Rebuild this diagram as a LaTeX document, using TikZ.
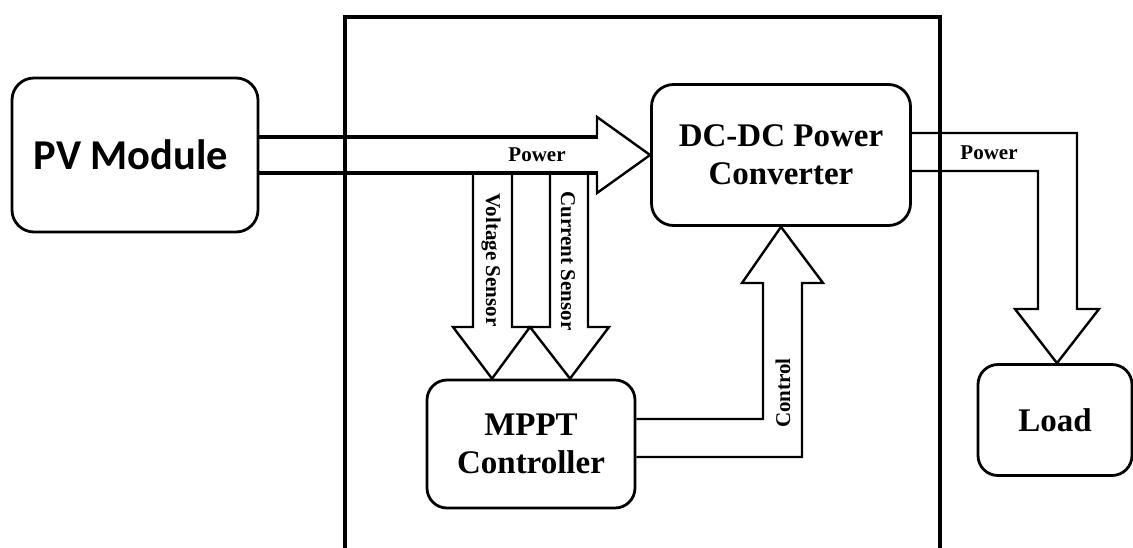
\documentclass[tikz,border=0pt]{standalone}
\usepackage{fontspec}
\setmainfont{Liberation Serif}
\newfontfamily\pvfont{Carlito}
\begin{document}
\begin{tikzpicture}[x=1pt,y=-1pt,
  box/.style={draw, line width=2.8pt, rounded corners=22pt, inner sep=0pt, align=center,
    font=\bfseries\fontsize{33}{38}\selectfont},
  thinline/.style={line width=2.4pt, line join=miter},
  thickline/.style={line width=4.2pt},
  framestyle/.style={line width=4.5pt, line join=miter},
  lbl/.style={font=\bfseries\fontsize{21}{24}\selectfont, inner sep=0pt}]
\useasboundingbox (0,0) rectangle (1133,547);

% outer frame
\draw[framestyle] (345,549) -- (345,17) -- (940,17) -- (940,549);

% boxes
\node[box, minimum width=246pt, minimum height=154pt, font=\pvfont\bfseries\fontsize{42.5}{46}\selectfont] (pv) at (135,155) {PV Module\hspace*{8pt}};
\node[box, minimum width=259pt, minimum height=141pt] (dc) at (781,155) {DC-DC Power\\Converter};
\node[box, minimum width=208pt, minimum height=128pt, rounded corners=20pt] (mppt) at (531,444) {MPPT\\Controller};
\node[box, minimum width=154pt, minimum height=111pt, rounded corners=20pt] (load) at (1055,420) {Load};

% power arrow PV -> DC-DC
\draw[thickline] (pv.east |- 0,137) -- (598,137);
\draw[thickline] (pv.east |- 0,173) -- (598,173);
\draw[thinline] (597,135) -- (597,117) -- (dc.west) -- (597,193) -- (597,175);
\node[lbl] (pwin) at (537,155) {Power};

% voltage sensor arrow
\draw[thinline] (473,175) -- (473,327) -- (453,327) -- (492,0 |- mppt.north) -- (530,327) -- (512,327) -- (512,175);
% current sensor arrow
\draw[thinline] (550,175) -- (550,327) -- (530,327) -- (570,0 |- mppt.north) -- (609,327) -- (588,327) -- (588,175);
\draw[thinline] (512,327) -- (550,327);
\node[lbl, rotate=-90] (vs) at (491,260) {Voltage Sensor};
\node[lbl, rotate=-90] (cs) at (568,261) {Current Sensor};

% control arrow MPPT -> DC-DC
\draw[thinline] (mppt.east |- 0,419) -- (763,419) -- (763,283) -- (742,283) -- (dc.south) -- (823,283) -- (802,283) -- (802,457) -- (mppt.east |- 0,457);
\node[lbl, rotate=90] (ctl) at (783,393) {Control};

% power arrow DC-DC -> Load
\draw[thinline] (dc.east |- 0,133) -- (1077,133) -- (1077,309) -- (1099,309) -- (1057,0 |- load.north) -- (1015,309) -- (1038,309) -- (1038,171) -- (dc.east |- 0,171);
\node[lbl] (pwout) at (989,153) {Power};
\end{tikzpicture}
\end{document}
